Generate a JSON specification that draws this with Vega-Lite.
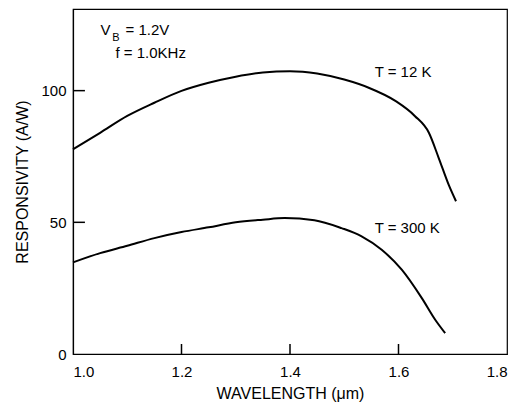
{
  "$schema": "https://vega.github.io/schema/vega-lite/v6.json",
  "width": 434,
  "height": 345,
  "autosize": "none",
  "padding": {"left": 73, "top": 9, "right": 17, "bottom": 53},
  "background": "white",
  "config": {
    "view": {"stroke": "black", "strokeWidth": 1.2},
    "font": "Liberation Sans",
    "axis": {
      "grid": false,
      "ticks": false,
      "domainColor": "black",
      "labelColor": "black",
      "titleColor": "black",
      "labelFont": "Liberation Sans",
      "titleFont": "Liberation Sans",
      "labelFontSize": 15,
      "titleFontSize": 16,
      "titleFontWeight": "normal",
      "domainWidth": 1.2
    }
  },
  "datasets": {
    "curves": [
      {"wl": 1.0, "r": 77.7, "T": "12 K"},
      {"wl": 1.05, "r": 84.0, "T": "12 K"},
      {"wl": 1.10, "r": 90.4, "T": "12 K"},
      {"wl": 1.15, "r": 95.4, "T": "12 K"},
      {"wl": 1.20, "r": 99.9, "T": "12 K"},
      {"wl": 1.25, "r": 103.0, "T": "12 K"},
      {"wl": 1.30, "r": 105.3, "T": "12 K"},
      {"wl": 1.35, "r": 106.9, "T": "12 K"},
      {"wl": 1.40, "r": 107.4, "T": "12 K"},
      {"wl": 1.45, "r": 106.5, "T": "12 K"},
      {"wl": 1.50, "r": 104.2, "T": "12 K"},
      {"wl": 1.545, "r": 101.1, "T": "12 K"},
      {"wl": 1.595, "r": 96.0, "T": "12 K"},
      {"wl": 1.63, "r": 90.4, "T": "12 K"},
      {"wl": 1.656, "r": 84.0, "T": "12 K"},
      {"wl": 1.674, "r": 74.5, "T": "12 K"},
      {"wl": 1.693, "r": 64.0, "T": "12 K"},
      {"wl": 1.706, "r": 58.0, "T": "12 K"},
      {"wl": 1.0, "r": 34.8, "T": "300 K"},
      {"wl": 1.05, "r": 38.3, "T": "300 K"},
      {"wl": 1.10, "r": 41.1, "T": "300 K"},
      {"wl": 1.15, "r": 44.0, "T": "300 K"},
      {"wl": 1.20, "r": 46.3, "T": "300 K"},
      {"wl": 1.25, "r": 48.1, "T": "300 K"},
      {"wl": 1.30, "r": 50.0, "T": "300 K"},
      {"wl": 1.35, "r": 51.0, "T": "300 K"},
      {"wl": 1.39, "r": 51.6, "T": "300 K"},
      {"wl": 1.445, "r": 50.8, "T": "300 K"},
      {"wl": 1.495, "r": 47.8, "T": "300 K"},
      {"wl": 1.532, "r": 44.7, "T": "300 K"},
      {"wl": 1.569, "r": 39.6, "T": "300 K"},
      {"wl": 1.606, "r": 32.0, "T": "300 K"},
      {"wl": 1.643, "r": 21.2, "T": "300 K"},
      {"wl": 1.668, "r": 12.9, "T": "300 K"},
      {"wl": 1.686, "r": 7.9, "T": "300 K"}
    ],
    "notes": [
      {"wl": 1.0506, "r": 123.0, "label": "V"},
      {"wl": 1.0969, "r": 123.0, "label": "= 1.2V"},
      {"wl": 1.0783, "r": 114.3, "label": "f = 1.0KHz"},
      {"wl": 1.556, "r": 107.1, "label": "T = 12 K"},
      {"wl": 1.556, "r": 47.9, "label": "T = 300 K"}
    ],
    "subs": [
      {"wl": 1.0722, "r": 120.0, "label": "B"}
    ],
    "xticks": [{"wl": 1.2}, {"wl": 1.4}, {"wl": 1.6}],
    "yticks": [{"r": 50}, {"r": 100}]
  },
  "layer": [
    {
      "data": {"name": "curves"},
      "mark": {"type": "line", "color": "black", "strokeWidth": 2, "interpolate": "monotone"},
      "encoding": {
        "x": {
          "field": "wl", "type": "quantitative",
          "scale": {"domain": [1.0, 1.8], "nice": false, "zero": false},
          "axis": {
            "title": "WAVELENGTH (μm)",
            "values": [1.0, 1.2, 1.4, 1.6, 1.8],
            "format": ".1f",
            "labelPadding": 10,
            "titlePadding": 6
          }
        },
        "y": {
          "field": "r", "type": "quantitative",
          "scale": {"domain": [0, 131], "nice": false},
          "axis": {
            "title": "RESPONSIVITY (A/W)",
            "values": [0, 50, 100],
            "labelPadding": 7,
            "titlePadding": 10
          }
        },
        "detail": {"field": "T", "type": "nominal"}
      }
    },
    {
      "data": {"name": "xticks"},
      "mark": {"type": "rule", "color": "black", "strokeWidth": 1.5},
      "encoding": {
        "x": {"field": "wl", "type": "quantitative"},
        "y": {"datum": 0},
        "y2": {"datum": 3.8}
      }
    },
    {
      "data": {"name": "yticks"},
      "mark": {"type": "rule", "color": "black", "strokeWidth": 1.5},
      "encoding": {
        "y": {"field": "r", "type": "quantitative"},
        "x": {"datum": 1.0},
        "x2": {"datum": 1.022}
      }
    },
    {
      "data": {"name": "notes"},
      "mark": {"type": "text", "align": "left", "baseline": "middle", "fontSize": 15, "color": "black", "font": "Liberation Sans"},
      "encoding": {
        "x": {"field": "wl", "type": "quantitative"},
        "y": {"field": "r", "type": "quantitative"},
        "text": {"field": "label"}
      }
    },
    {
      "data": {"name": "subs"},
      "mark": {"type": "text", "align": "left", "baseline": "middle", "fontSize": 11, "color": "black", "font": "Liberation Sans"},
      "encoding": {
        "x": {"field": "wl", "type": "quantitative"},
        "y": {"field": "r", "type": "quantitative"},
        "text": {"field": "label"}
      }
    }
  ]
}
